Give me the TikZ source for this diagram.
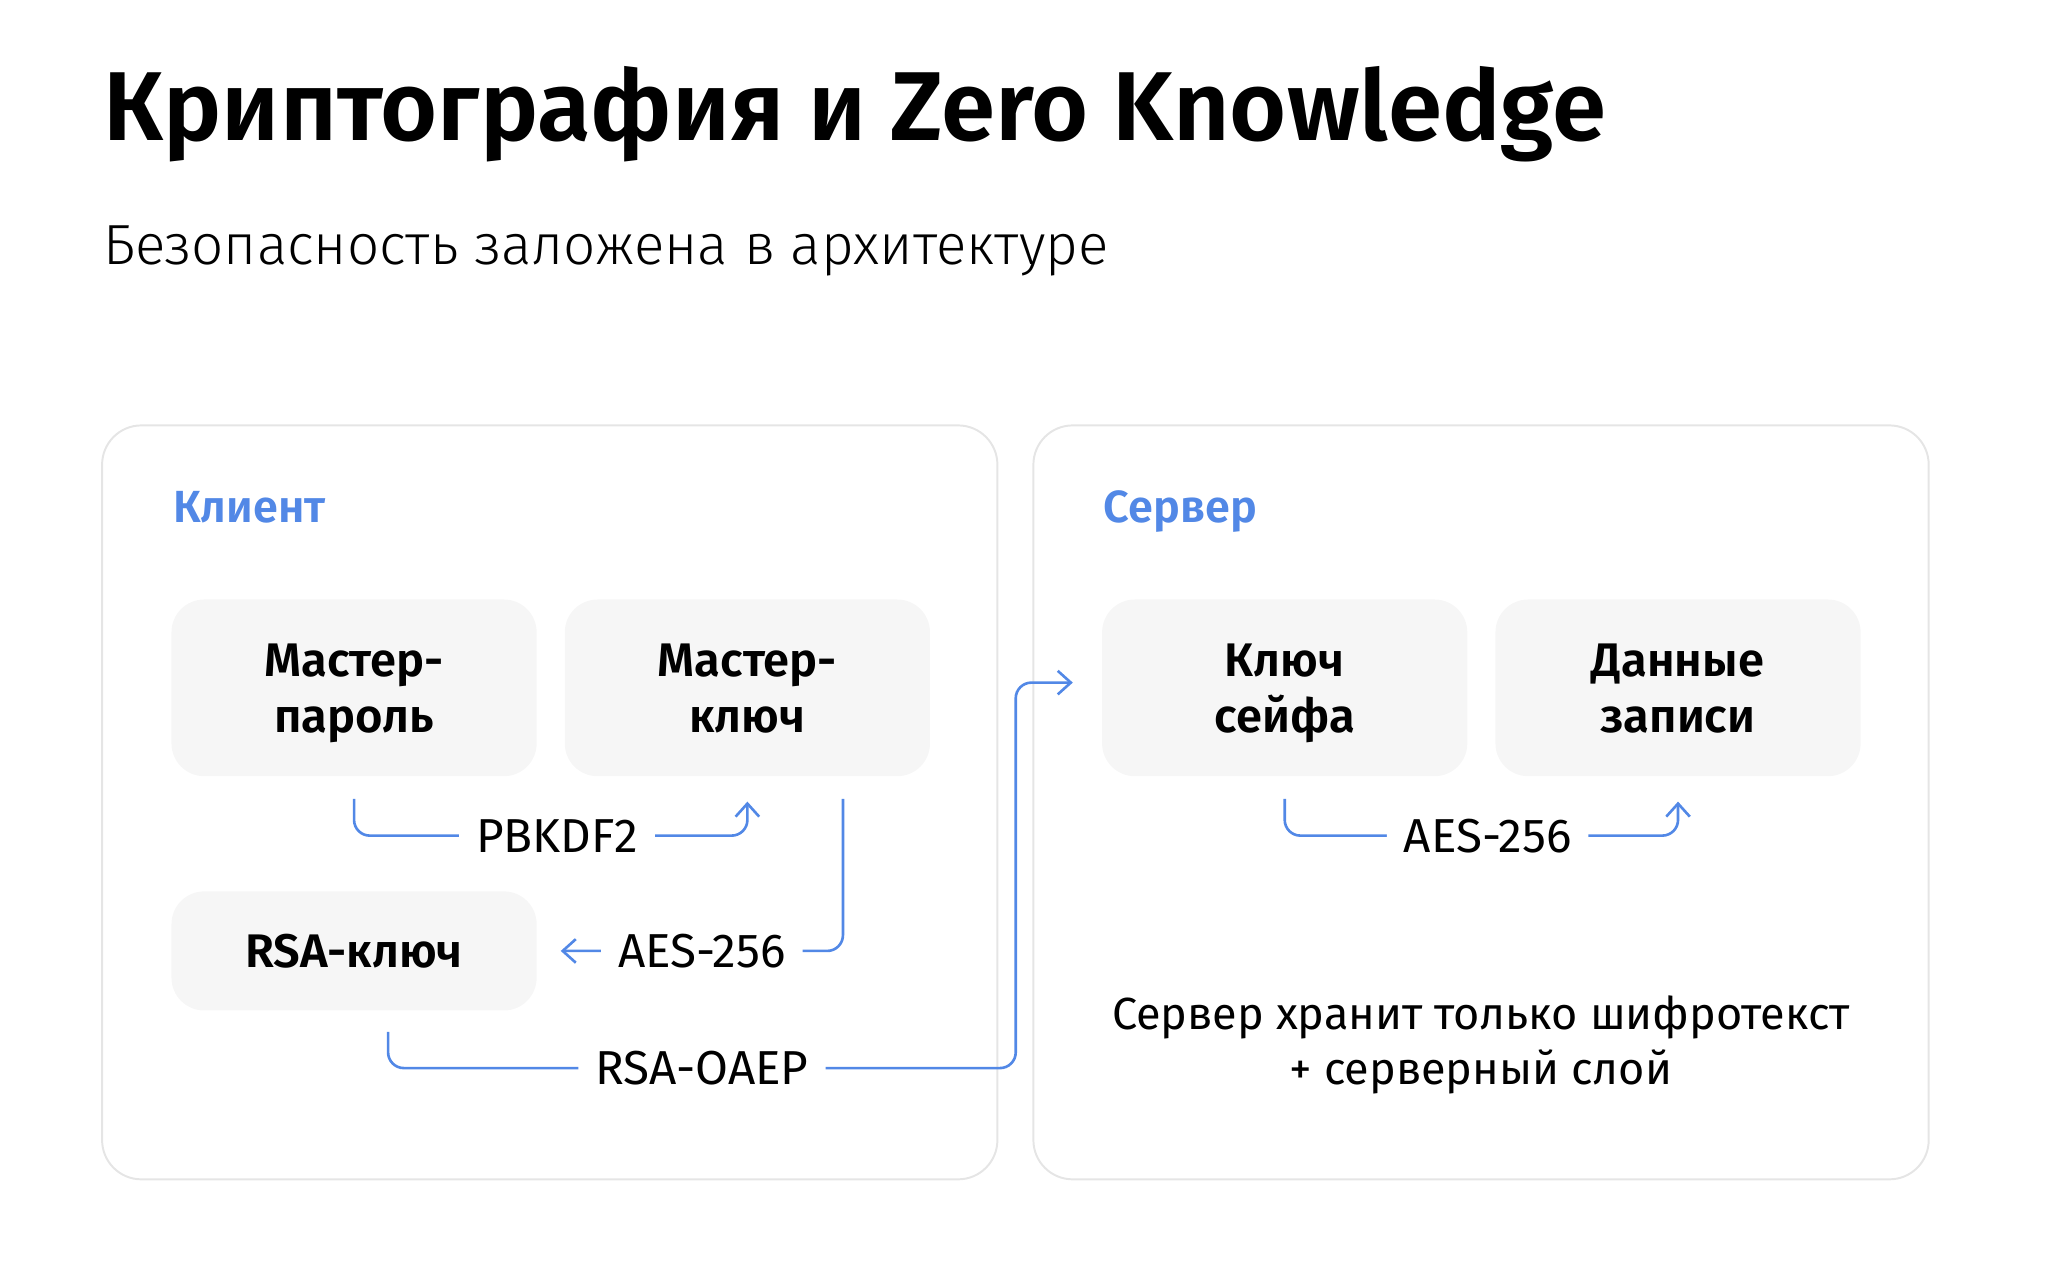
\documentclass[tikz,border=0pt]{standalone}
\usepackage{fontspec}
\setmainfont{Fira Sans}[BoldFont={Fira Sans SemiBold}]
\newfontfamily\lightfont{Fira Sans Light}
\usetikzlibrary{arrows.meta,positioning}
\definecolor{linkblue}{RGB}{82,136,230}
\definecolor{panelgray}{RGB}{229,229,229}
\definecolor{boxgray}{RGB}{246,246,246}
\newcommand{\tophold}{\rule{0pt}{16.5pt}}
\newcommand{\bothold}{\rule[-3.6pt]{0pt}{3.6pt}}

\begin{document}
\begin{tikzpicture}[
    x=0.5pt, y=-0.5pt,
    panel/.style={draw=panelgray, line width=0.75pt, rounded corners=15pt, minimum width=342pt, minimum height=288pt},
    keybox/.style={fill=boxgray, rounded corners=12.5pt, minimum width=139.5pt, minimum height=67.5pt, align=center, font=\bfseries\fontsize{18}{21.4}\selectfont},
    side/.style={anchor=base west, text=linkblue, font=\bfseries\fontsize{17.2}{20}\selectfont, inner sep=0pt},
    flow/.style={draw=linkblue, line width=1pt, rounded corners=6pt, -{Straight Barb[length=5pt,width=9pt]}},
    tag/.style={fill=white, inner xsep=6.5pt, inner ysep=1pt, font=\fontsize{18.2}{20}\selectfont}
]
\useasboundingbox (0,0) rectangle (1570,979.4);

% title
\node[anchor=base west, inner sep=0pt, font=\bfseries\fontsize{37.4}{44}\selectfont] (title) at (78.6,107.7) {Криптография и Zero Knowledge};
\node[anchor=base west, inner sep=0pt, font=\lightfont\fontsize{21.6}{24}\selectfont] (subtitle) at (78.6,201.7) {Безопасность заложена в архитектуре};

% panels
\node[panel] (client) at (420,613) {};
\node[panel] (server) at (1131.5,613) {};
\node[side] at (132,399.5) {Клиент};
\node[side] at (843,399.5) {Сервер};

% client side
\node[keybox] (mpass) at (270.5,525.5) {\tophold Мастер-\\пароль\bothold};
\node[keybox] (mkey) at (571,525.5) {\tophold Мастер-\\ключ\bothold};
\node[keybox, minimum height=45.5pt] (rsa) at (270.5,726.5) {RSA-ключ};

% server side
\node[keybox] (vault) at (981.5,525.5) {\tophold Ключ\\сейфа\bothold};
\node[keybox] (data) at (1282,525.5) {\tophold Данные\\записи\bothold};
\node[align=center, font=\fontsize{17.2}{21}\selectfont] (note) at (1131.5,798) {Сервер хранит только шифротекст\\+ серверный слой};

\coordinate (oaep) at (776,816);

\draw[flow] ([yshift=-8.5pt]mpass.south) |- node[tag, pos=0.758] {PBKDF2} ([yshift=-22.5pt]mkey.south) -- ([yshift=-9.5pt]mkey.south);
\draw[flow] ([xshift=36.5pt,yshift=-8.5pt]mkey.south) |- node[tag, pos=0.75] {AES-256} ([xshift=9pt]rsa.east);
\draw[flow] ([xshift=13pt,yshift=-8pt]rsa.south) |- node[tag, pos=0.75] {RSA-OAEP} (oaep) |- ([xshift=-11pt,yshift=2pt]vault.west);
\draw[flow] ([yshift=-8.5pt]vault.south) |- node[tag, pos=0.758] {AES-256} ([yshift=-22.5pt]data.south) -- ([yshift=-9.5pt]data.south);

\end{tikzpicture}
\end{document}
